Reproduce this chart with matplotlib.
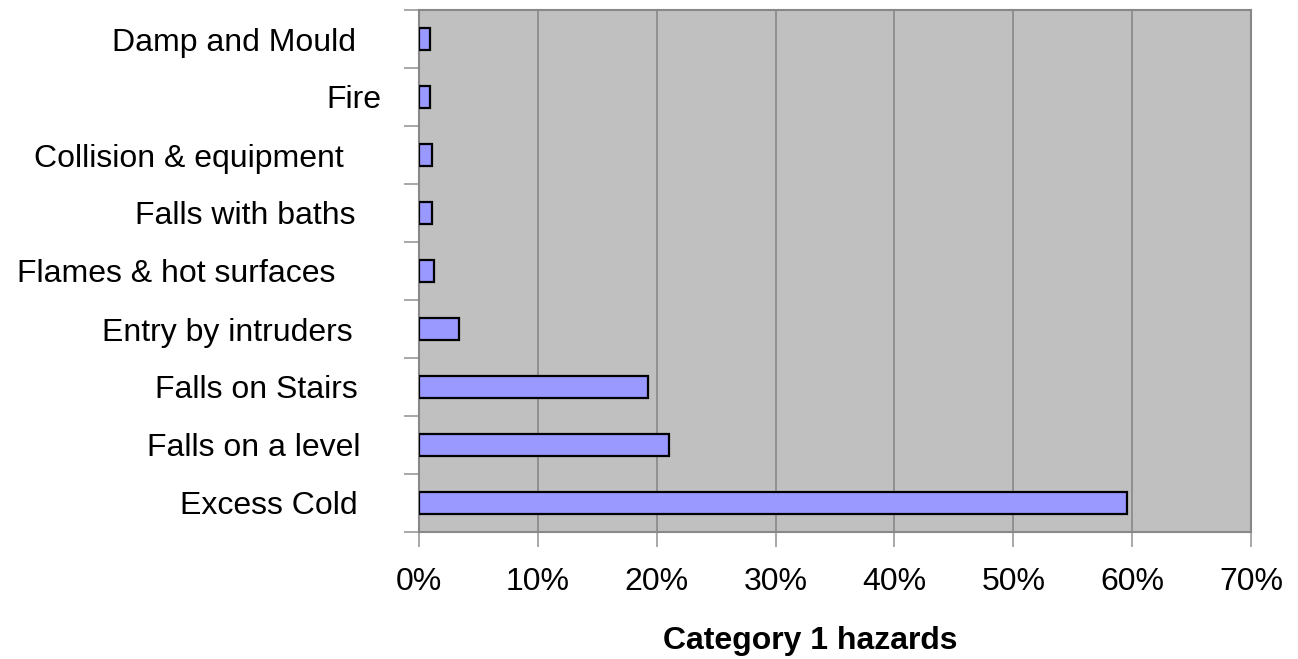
import matplotlib
matplotlib.use("Agg")
import matplotlib.pyplot as plt
from matplotlib.ticker import FixedLocator, FuncFormatter
from matplotlib.transforms import ScaledTranslation

categories = ["Excess Cold", "Falls on a level", "Falls on Stairs", "Entry by intruders",
              "Flames & hot surfaces", "Falls with baths", "Collision & equipment",
              "Fire", "Damp and Mould"]
values = [59.6, 21.0, 19.3, 3.4, 1.3, 1.1, 1.1, 0.9, 0.9]
xticks = [0, 10, 20, 30, 40, 50, 60, 70]
# extra left shift of each category label (pixels), as in the reference
label_shift = [23, 20, 23, 28, 46, 25, 37, 0, 25]

plt.rcParams['font.family'] = ['Liberation Sans', 'DejaVu Sans']

fig = plt.figure(figsize=(12.98, 6.59), dpi=100)
ax = fig.add_axes([419/1298, 1-532/659, (1251-419)/1298, (532-10)/659])
ax.set_facecolor('#C0C0C0')

y = list(range(len(categories)))
ax.barh(y, values, height=0.38, color='#9999FF', edgecolor='black', linewidth=1.6, zorder=3)

ax.set_xlim(0, 70)
ax.set_ylim(-0.5, len(categories) - 0.5)
ax.set_xticks(xticks)
ax.xaxis.set_major_formatter(FuncFormatter(lambda v, p: f"{int(v)}%"))
ax.grid(axis='x', color='#888888', linewidth=1.2, zorder=1)

# y ticks at category boundaries, labels at category centers
ax.yaxis.set_major_locator(FixedLocator([i - 0.5 for i in range(len(categories) + 1)]))
ax.yaxis.set_major_formatter(FuncFormatter(lambda v, p: ""))
ax.yaxis.set_minor_locator(FixedLocator(y))
ax.set_yticklabels(categories, minor=True)
ax.tick_params(axis='y', which='minor', length=0, pad=27.4, labelsize=23)
ax.tick_params(axis='y', which='major', length=11, color='#999999', width=1.2)
ax.tick_params(axis='x', length=11, color='#999999', width=1.2, labelsize=23, pad=14)

for lab, sh in zip(ax.get_yticklabels(minor=True), label_shift):
    lab.set_transform(lab.get_transform() + ScaledTranslation(-sh / 100, 0, fig.dpi_scale_trans))

for s in ax.spines.values():
    s.set_color('#888888')
    s.set_linewidth(1.5)

ax.set_xlabel("Category 1 hazards", fontsize=23, fontweight='bold', va='center')
ax.xaxis.set_label_coords((810 - 419) / 832, (532 - 641) / 522)

fig.savefig("out.png", dpi=100)
